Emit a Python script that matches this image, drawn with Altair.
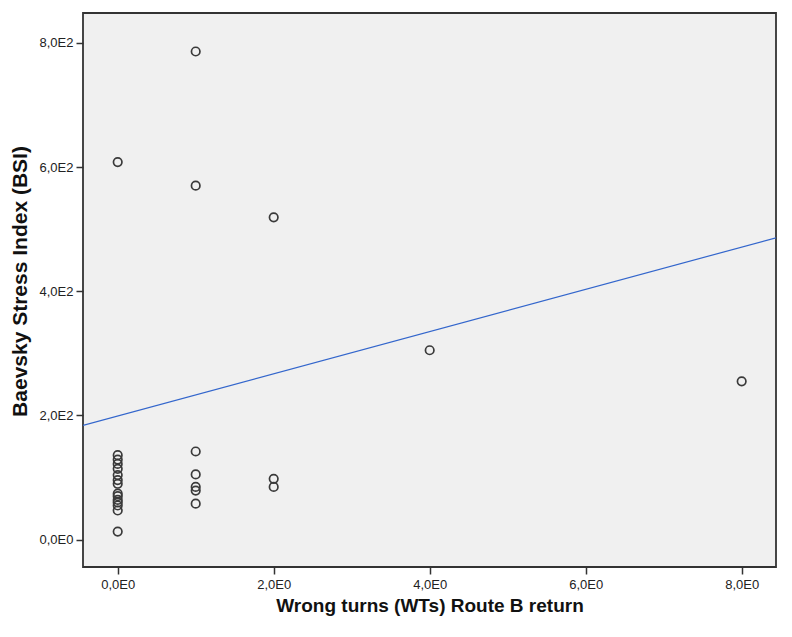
import altair as alt
import pandas as pd

# Scatter data: Wrong turns (WTs) Route B return vs Baevsky Stress Index (BSI)
wrong_turns = [0]*15 + [1]*7 + [2]*3 + [4, 8]
bsi = [608, 136, 129, 122, 114, 104, 96, 90, 74, 70, 64, 60, 55, 47, 13,
       786, 570, 142, 105, 85, 79, 58,
       519, 98, 85,
       305, 255]

# Fit line (as drawn)
fit_x = [-0.445, 8.44]
fit_y = [184, 486]

x_ticks = [0, 2, 4, 6, 8]
x_labels = ["0,0E0", "2,0E0", "4,0E0", "6,0E0", "8,0E0"]
y_ticks = [0, 200, 400, 600, 800]
y_labels = ["0,0E0", "2,0E2", "4,0E2", "6,0E2", "8,0E2"]

pts = pd.DataFrame({"x": wrong_turns, "y": bsi})
fit = pd.DataFrame({"x": fit_x, "y": fit_y})

def label_expr(ticks, labels):
    parts = " : ".join(f"datum.value == {t} ? '{l}'" for t, l in zip(ticks, labels))
    return parts + " : ''"

xs = alt.Scale(domain=[-0.445, 8.44], nice=False, zero=False)
ys = alt.Scale(domain=[-44, 848], nice=False, zero=False)

x_axis = alt.Axis(values=x_ticks, labelExpr=label_expr(x_ticks, x_labels),
                  title="Wrong turns (WTs) Route B return", grid=False, domain=False,
                  tickColor="#333", tickSize=7, tickWidth=1.5, labelFontSize=13,
                  labelColor="#222", labelFont="Liberation Sans", labelPadding=4,
                  titleFont="Liberation Sans", titleFontSize=19, titleFontWeight="bold",
                  titleColor="#111", titleY=38, titleBaseline="middle")
y_axis = alt.Axis(values=y_ticks, labelExpr=label_expr(y_ticks, y_labels),
                  title="Baevsky Stress Index (BSI)", grid=False, domain=False,
                  tickColor="#333", tickSize=7, tickWidth=1.5, labelFontSize=13,
                  labelColor="#222", labelFont="Liberation Sans", labelPadding=3,
                  titleFont="Liberation Sans", titleFontSize=21, titleFontWeight="bold",
                  titleColor="#111", titleX=-63, titleY=268, titleAngle=270,
                  titleAlign="center", titleBaseline="middle")

points = alt.Chart(pts).mark_point(shape="circle", filled=False, size=72,
                                   strokeWidth=1.7, color="#3a3a3a", opacity=1).encode(
    x=alt.X("x:Q", scale=xs, axis=x_axis),
    y=alt.Y("y:Q", scale=ys, axis=y_axis),
)

line = alt.Chart(fit).mark_line(color="#3366CC", strokeWidth=1.2, clip=True).encode(
    x=alt.X("x:Q", scale=xs),
    y=alt.Y("y:Q", scale=ys),
)

chart = alt.layer(line, points).properties(
    width=693, height=554,
    autosize=alt.AutoSizeParams(type="none"),
    padding={"left": 75, "top": 5, "right": 8, "bottom": 55},
    background="white",
).configure_view(fill="#F0F0F0", stroke="#333", strokeWidth=1.8)

chart.save("out.html", embed_options={"renderer": "svg", "actions": False})
